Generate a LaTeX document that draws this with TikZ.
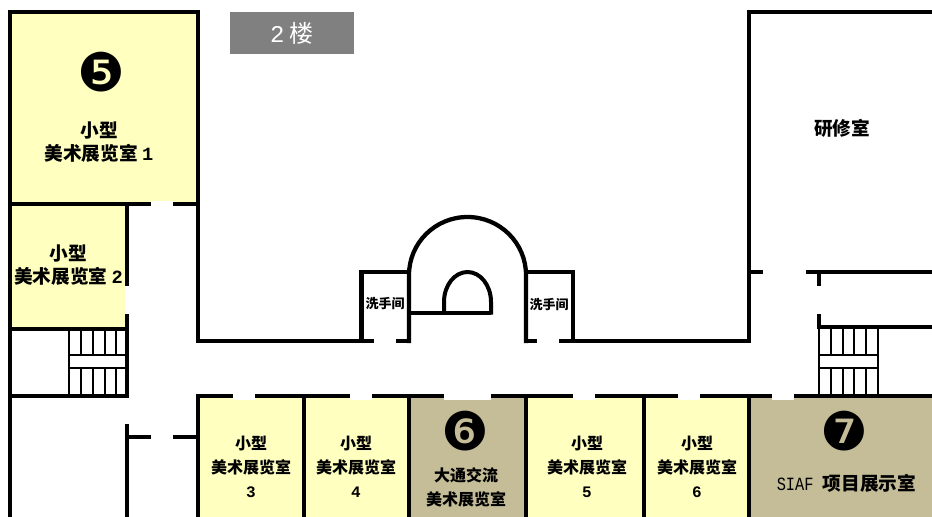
\documentclass[tikz,border=0pt]{standalone}
\usepackage{fontspec}
\setmainfont{Noto Sans CJK SC}
\newfontfamily\latinmono{Liberation Mono}
\newfontfamily\siaffont[FakeStretch=0.82]{Liberation Mono}
\newfontfamily\dingfont{DejaVu Sans}
\definecolor{roomyellow}{HTML}{FFFFC0}
\definecolor{roomtan}{HTML}{C4BD97}
\definecolor{bannergrey}{HTML}{808080}
\newcommand{\lm}[1]{{\latinmono\bfseries #1}}
\tikzset{
  x=0.75pt,y=-0.75pt,
  wall/.style={line width=3.2pt,line cap=rect,line join=miter,black},
  thinwall/.style={line width=1.5pt,line cap=butt,black},
  gapfill/.style={fill=white,draw=none},
  big/.style={align=center,inner sep=0pt,font=\fontsize{14}{18}\selectfont\bfseries},
  mid/.style={align=center,inner sep=0pt,font=\fontsize{12}{18}\selectfont\bfseries},
  small/.style={align=center,inner sep=0pt,font=\fontsize{9.75}{12}\selectfont\bfseries},
  badge/.style={inner sep=0pt,font=\fontsize{40}{40}\selectfont\dingfont}
}
\begin{document}
\begin{tikzpicture}
\useasboundingbox (0,0) rectangle (932,517);
% room fills
\fill[roomyellow] (10,12) rectangle (198,204);
\fill[roomyellow] (10,204) rectangle (127,329);
\fill[roomyellow] (198,396) rectangle (409,517);
\fill[roomtan] (409,396) rectangle (526,517);
\fill[roomyellow] (526,396) rectangle (749,517);
\fill[roomtan] (749,396) rectangle (932,517);
% banner
\fill[bannergrey] (230,12) rectangle (354,54);
% stairs
\foreach \x in {69,81,93,104.5,116,127.5}{
  \draw[thinwall] (\x,329) -- (\x,355);
  \draw[thinwall] (\x,368) -- (\x,396);
}
\draw[thinwall] (69,355) rectangle (127.5,368);
\foreach \x in {818.7,831,842.7,854.3,866.3,878.3}{
  \draw[thinwall] (\x,327) -- (\x,355);
  \draw[thinwall] (\x,368) -- (\x,396);
}
\draw[thinwall] (818.7,355) rectangle (878.3,368);
% walls
\draw[wall] (10,517) -- (10,12) -- (198,12) -- (198,341) -- (409,341);
\draw[wall] (10,204) -- (198,204);
\draw[wall] (127,204) -- (127,396);
\draw[wall] (10,329) -- (127,329);
\draw[wall] (10,396) -- (127,396);
\draw[wall] (127,426) -- (127,517);
\draw[wall] (127,437) -- (198,437);
\draw[wall] (361.5,341) -- (361.5,272) -- (409,272);
\draw[wall] (409,341) -- (409,275) arc[start angle=180,end angle=360,x radius=58.5,y radius=58] -- (526,341);
\draw[wall] (526,272) -- (573,272) -- (573,341);
\draw[wall] (526,341) -- (749,341) -- (749,12) -- (932,12);
\draw[line width=3pt,line cap=butt] (409,313) -- (491,313);
\draw[line width=3pt,line cap=butt] (444,314.5) -- (444,302) arc[start angle=180,end angle=360,x radius=23.5,y radius=30] -- (491,314.5);
\draw[wall] (749,272) -- (761,272);
\draw[wall] (808,272) -- (932,272);
\draw[wall] (819,272) -- (819,327) -- (932,327);
\draw[wall] (198,517) -- (198,396) -- (932,396);
\foreach \x in {304,409,526,644,749}{\draw[wall] (\x,396) -- (\x,517);}
% door gaps
\fill[gapfill] (151,201) rectangle (173,207);
\fill[gapfill] (124.5,286) rectangle (130,314);
\fill[gapfill] (151,434) rectangle (173,440);
\fill[gapfill] (374,338) rectangle (396,344);
\fill[gapfill] (537,338) rectangle (559,344);
\fill[gapfill] (233,394) rectangle (255,400);
\fill[gapfill] (350,394) rectangle (372,400);
\fill[gapfill] (444,394) rectangle (491,400);
\fill[gapfill] (573,394) rectangle (595,400);
\fill[gapfill] (678,394) rectangle (700,400);
\fill[gapfill] (772,394) rectangle (794,400);
\fill[gapfill] (816,286) rectangle (822,314);
% labels
\node[inner sep=0pt,text=white,font=\fontsize{18}{20}\selectfont] (banner) at (292,33) {{\latinmono 2} 楼};
\node[badge] (b5) at (101,72) {❺};
\node[badge] (b6) at (465,431) {❻};
\node[badge] (b7) at (844,431) {❼};
\node[big] (r1) at (99,142) {小型\\[-0.5pt]美术展览室 \lm{1}};
\node[big] (r2) at (68.5,265) {小型\\[-0.5pt]美术展览室 \lm{2}};
\node[big] (study) at (842,128) {研修室};
\node[small] (wcl) at (385,304) {洗手间};
\node[small] (wcr) at (549,305) {洗手间};
\node[mid] (r3) at (251,467) {小型\\美术展览室\\\lm{3}};
\node[mid] (r4) at (356,467) {小型\\美术展览室\\\lm{4}};
\node[mid] (r5) at (587,467) {小型\\美术展览室\\\lm{5}};
\node[mid] (r6) at (697,467) {小型\\美术展览室\\\lm{6}};
\node[mid] (r8) at (466,487) {大通交流\\美术展览室};
\node[big] (siaf) at (846.5,483) {{\siaffont\mdseries\fontsize{14}{16}\selectfont SIAF}\hspace{7pt}项目展示室};
\end{tikzpicture}
\end{document}
